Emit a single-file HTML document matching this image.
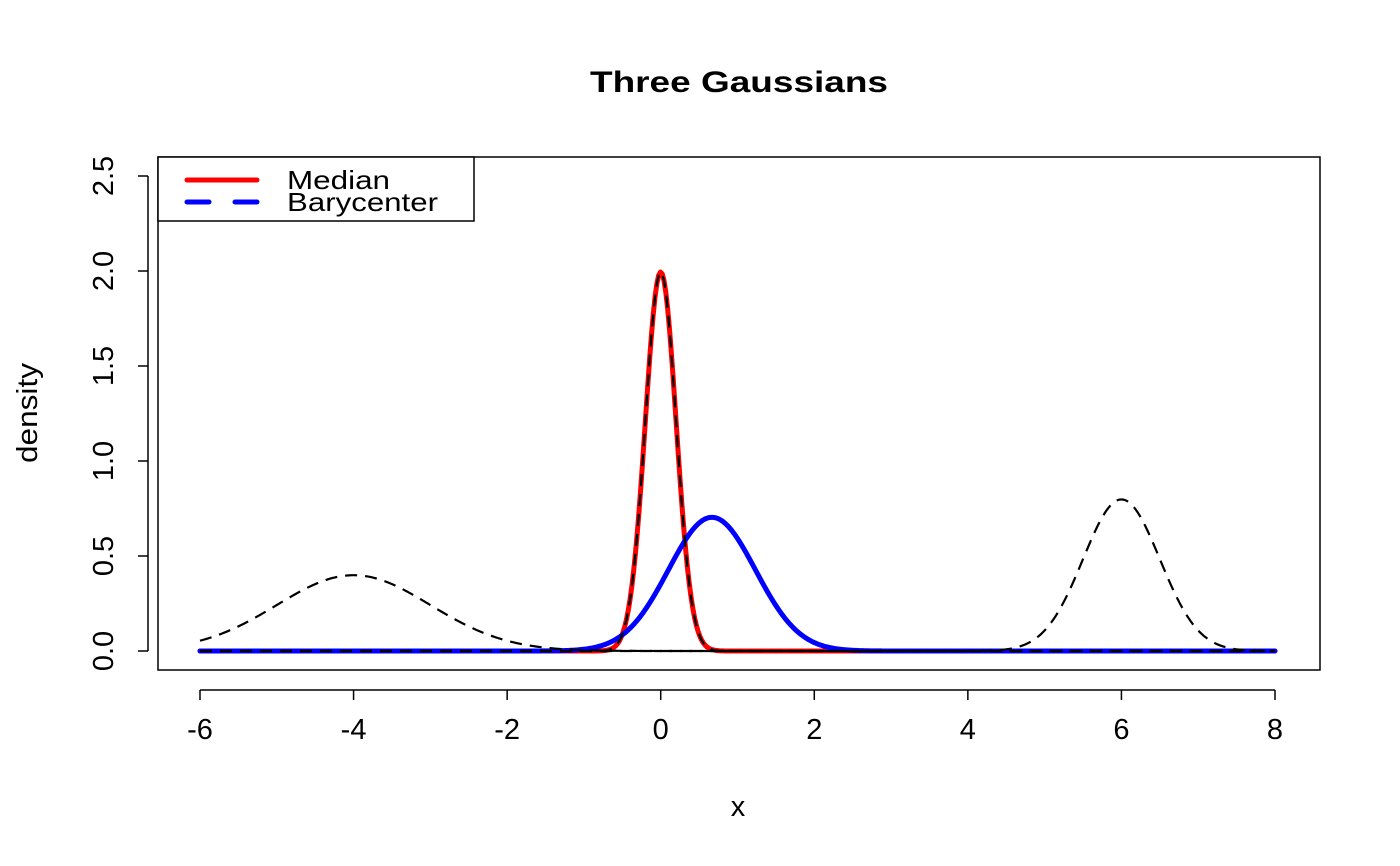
<!DOCTYPE html>
<html><head><meta charset="utf-8"><style>
html,body{margin:0;padding:0;background:#fff;}
svg{display:block;font-family:"Liberation Sans",sans-serif;}
</style></head><body>
<svg id="chart" width="1400" height="866" viewBox="0 0 1400 866">
<text x="590" y="92" font-size="30" font-weight="bold" textLength="298" lengthAdjust="spacingAndGlyphs">Three Gaussians</text>
<rect x="158" y="157" width="1162" height="513" fill="none" stroke="#000" stroke-width="1.5"/>
<g id="xaxis"></g>
<g id="yaxis"></g>
<text x="738" y="816" text-anchor="middle" font-size="29">x</text>
<text x="0" y="0" transform="translate(37,413) rotate(-90)" text-anchor="middle" font-size="29" textLength="100" lengthAdjust="spacingAndGlyphs">density</text>
<g id="series"></g>
<g>
<rect x="158" y="157" width="316" height="64" fill="#fff" stroke="#000" stroke-width="1.5"/>
<line x1="187" y1="180" x2="257" y2="180" stroke="#f00" stroke-width="5" stroke-linecap="round"/>
<text x="287" y="189" font-size="26" textLength="103" lengthAdjust="spacingAndGlyphs">Median</text>
<line x1="187" y1="202" x2="257" y2="202" stroke="#00f" stroke-width="5" stroke-linecap="round" stroke-dasharray="22,26"/>
<text x="287" y="211" font-size="26" textLength="151" lengthAdjust="spacingAndGlyphs">Barycenter</text>
</g>
</svg>
<script>
const xTicks = [-6,-4,-2,0,2,4,6,8];
const yTicks = [0,0.5,1.0,1.5,2.0,2.5];
const yTickLabels = ["0.0","0.5","1.0","1.5","2.0","2.5"];
const gaussMeans = [-4, 0, 6];
const gaussSds = [1, 0.2, 0.5];
const medianMean = [0];
const medianSd = [0.2];
const baryMean = [0.667];
const barySd = [0.567];
const xRange = [-6, 8];

const NS = "http://www.w3.org/2000/svg";
function sx(v){ return 200 + (v + 6) * (1075/14); }
function sy(v){ return 651 - v * 190; }
function dnorm(x,m,s){ return Math.exp(-0.5*((x-m)/s)**2)/(s*Math.sqrt(2*Math.PI)); }
function mk(tag, attrs, parent){ const e=document.createElementNS(NS,tag); for(const k in attrs) e.setAttribute(k,attrs[k]); parent.appendChild(e); return e; }

const xa = document.getElementById('xaxis');
let l = mk('line',{x1:sx(xTicks[0]),y1:690,x2:sx(xTicks[xTicks.length-1]),y2:690,stroke:'#000','stroke-width':1.5},xa);


xTicks.forEach(t=>{
  const tk = mk('line',{x1:sx(t),y1:690,x2:sx(t),y2:700,stroke:'#000','stroke-width':1.5},xa);
  
  
  const tx = mk('text',{x:sx(t),y:739,'text-anchor':'middle','font-size':29},xa);
  tx.textContent = String(t);
  
  
});
const ya = document.getElementById('yaxis');
l = mk('line',{x1:148,y1:sy(yTicks[0]),x2:148,y2:sy(yTicks[yTicks.length-1]),stroke:'#000','stroke-width':1.5},ya);


yTicks.forEach((t,i)=>{
  const tk = mk('line',{x1:138,y1:sy(t),x2:148,y2:sy(t),stroke:'#000','stroke-width':1.5},ya);
  
  
  const tx = mk('text',{x:0,y:0,transform:`translate(113,${sy(t)}) rotate(-90)`,'text-anchor':'middle','font-size':29},ya);
  tx.textContent = yTickLabels[i];
  
  
});

function pathFor(m,s){
  let d=''; const n=600;
  for(let i=0;i<=n;i++){ const x=xRange[0]+(xRange[1]-xRange[0])*i/n; d+=(i?'L':'M')+sx(x).toFixed(2)+','+sy(dnorm(x,m,s)).toFixed(2); }
  return d;
}
const sg = document.getElementById('series');
let p = mk('path',{d:pathFor(medianMean[0],medianSd[0]),fill:'none',stroke:'#f00','stroke-width':5,'stroke-linejoin':'round','stroke-linecap':'round'},sg);


p = mk('path',{d:pathFor(baryMean[0],barySd[0]),fill:'none',stroke:'#00f','stroke-width':5,'stroke-linejoin':'round','stroke-linecap':'round'},sg);


gaussMeans.forEach((m,i)=>{
  const g = mk('path',{d:pathFor(m,gaussSds[i]),fill:'none',stroke:'#000','stroke-width':2.2,'stroke-dasharray':'12,8'},sg);
  
  
});
</script>
</body></html>
